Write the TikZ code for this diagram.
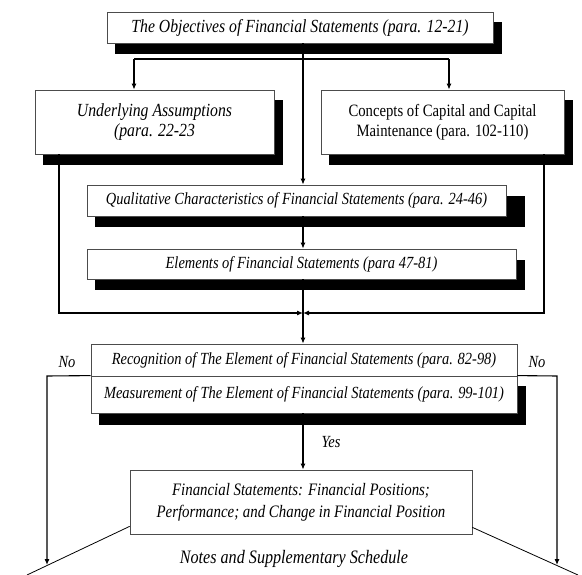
\documentclass[tikz,border=0pt]{standalone}
\usepackage{fontspec}
\setmainfont{Liberation Serif}[FakeStretch=0.85]
\usetikzlibrary{arrows.meta,backgrounds}
\newcommand{\fsz}[2]{\fontsize{#1}{#2}\selectfont}
\begin{document}
\begin{tikzpicture}[x=1pt,y=-1pt,
  box/.style={draw=black!70,line width=0.8pt,fill=white,inner sep=0pt,align=center,
    font=\itshape\fsz{17}{20}},
  uprightbox/.style={box,font=\upshape\fsz{17.3}{20}},
  boxshadow/.style={fill=black},
  conn/.style={line width=1.1pt,draw=black},
  arr/.style={conn,-{Latex[length=6pt,width=5pt]}},
  slant/.style={line width=0.8pt,draw=black},
  lbl/.style={font=\itshape\fsz{17}{20},inner sep=0pt},
]
\useasboundingbox (0,0) rectangle (582,575);

% boxes
\node[box,font=\itshape\fsz{18.5}{20},minimum width=386pt,minimum height=31pt] (obj) at (300,27.5)
  {The Objectives of Financial Statements (para. 12-21)};
\node[box,font=\itshape\fsz{18.5}{20},minimum width=239pt,minimum height=64pt] (ua) at (154.5,122)
  {Underlying Assumptions\\(para. 22-23};
\node[uprightbox,minimum width=243pt,minimum height=64pt] (ccm) at (442.5,122)
  {Concepts of Capital and Capital\\Maintenance (para. 102-110)};
\node[box,minimum width=419pt,minimum height=31pt] (qc) at (296.5,200.5)
  {Qualitative Characteristics of Financial Statements (para. 24-46)};
\node[box,minimum width=429pt,minimum height=30pt] (el) at (301.5,264)
  {Elements of Financial Statements (para 47-81)};
\node[box,minimum width=426pt,minimum height=32pt] (rec) at (304,360)
  {Recognition of The Element of Financial Statements (para. 82-98)};
\node[box,minimum width=426pt,minimum height=37pt] (meas) at (304,394.5)
  {Measurement of The Element of Financial Statements (para. 99-101)};
\node[box,font=\itshape\fsz{17.5}{22},minimum width=342pt,minimum height=64pt] (fs) at (301,502)
  {Financial Statements: Financial Positions;\\Performance; and Change in Financial Position};

% shadows behind the boxes
\begin{scope}[on background layer]
  \fill[boxshadow] ([xshift=8pt,yshift=-10pt]obj.north west) rectangle ([xshift=9pt,yshift=-11pt]obj.south east);
  \fill[boxshadow] ([xshift=8pt,yshift=-10pt]ua.north west) rectangle ([xshift=9pt,yshift=-11pt]ua.south east);
  \fill[boxshadow] ([xshift=8pt,yshift=-10pt]ccm.north west) rectangle ([xshift=9pt,yshift=-11pt]ccm.south east);
  \fill[boxshadow] ([xshift=8pt,yshift=-11pt]qc.north west) rectangle ([xshift=19pt,yshift=-11pt]qc.south east);
  \fill[boxshadow] ([xshift=8pt,yshift=-11pt]el.north west) rectangle ([xshift=9pt,yshift=-11pt]el.south east);
  \fill[boxshadow] ([xshift=8pt,yshift=-10pt]meas.north west) rectangle ([xshift=9pt,yshift=-12pt]meas.south east);
\end{scope}

% routing points
\coordinate (spine) at (303,0);
\coordinate (fl) at (134,59);
\coordinate (fr) at (449,59);
\coordinate (jl) at (59,313);
\coordinate (jr) at (544,313);
\coordinate (join) at (303,313);
\coordinate (nl) at (47,376);
\coordinate (nlb) at (47,565);
\coordinate (nr) at (557,376);
\coordinate (nrb) at (557,565);
\coordinate (dl) at (27,575);
\coordinate (dr) at (578,575);

% connectors
\draw[conn] (fl) -- (fr);
\draw[arr] (fl) -- (fl |- ua.north);
\draw[arr] (fr) -- (fr |- ccm.north);
\draw[arr] (obj.south -| spine) -- (qc.north -| spine);
\draw[arr] (qc.south -| spine) -- (el.north -| spine);
\draw[arr] (ua.south -| jl) -- (jl) -- (join);
\draw[arr] (ccm.south -| jr) -- (jr) -- (join);
\draw[arr] (el.south -| spine) -- (rec.north -| spine);
\draw[arr] (meas.north west) -- (nl) -- (nlb);
\draw[arr] (meas.north east) -- (nr) -- (nrb);
\draw[arr] (meas.south -| spine) -- (fs.north -| spine);
\draw[slant] ([yshift=8pt]fs.south west) -- (dl);
\draw[slant] ([yshift=7pt]fs.south east) -- (dr);

% labels
\node[lbl] (yes) at (331,442) {Yes};
\node[lbl] (nol) at (67,362) {No};
\node[lbl] (nor) at (537,362) {No};
\node[lbl,font=\itshape\fsz{19}{20}] (notes) at (294,559) {Notes and Supplementary Schedule};
\end{tikzpicture}
\end{document}
